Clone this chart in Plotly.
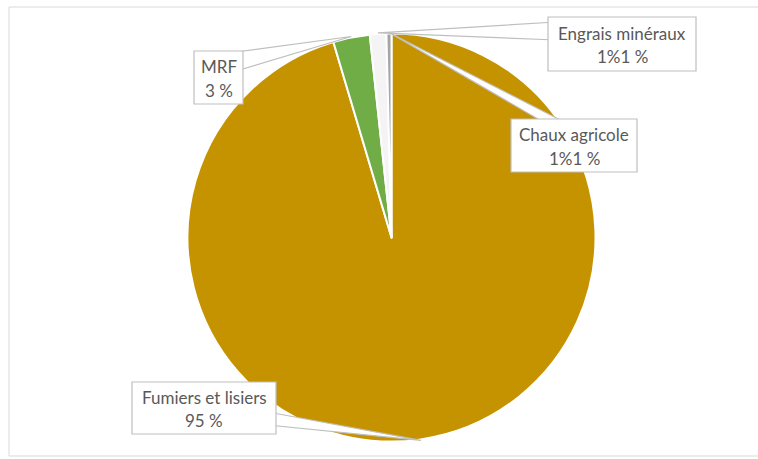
import math
import plotly.graph_objects as go

W, H = 758, 459

categories = ["Fumiers et lisiers", "MRF", "Engrais minéraux", "Chaux agricole"]
values = [95.4, 2.9, 1.3, 0.4]
label_values = ["95 %", "3 %", "1%1 %", "1%1 %"]
colors = ["#C69300", "#70AD47", "#F4F4F4", "#A5A5A5"]

# pie geometry (pixels)
CX, CY, R = 391.5, 237.5, 204.0

# callout boxes (pixels): x0, y0, x1, y1
boxes = {
    "Fumiers et lisiers": (132, 382, 276, 434),
    "MRF": (194, 51, 243, 104),
    "Engrais minéraux": (548, 17, 696, 71),
    "Chaux agricole": (511, 119, 637, 172),
}
# pointer base points (pixels) — inside/on box edges
bases = {
    "Fumiers et lisiers": ((268, 412), (268, 425)),
    "MRF": ((236, 52), (236, 71)),
    "Engrais minéraux": ((556, 22), (556, 40)),
    "Chaux agricole": ((550, 126), (572, 126)),
}


def px(x):
    return x / W


def py(y):
    return 1 - y / H


fig = go.Figure()
fig.add_trace(go.Pie(
    labels=categories,
    values=values,
    sort=False,
    direction="clockwise",
    rotation=0,
    marker=dict(colors=colors, line=dict(color="white", width=2)),
    textinfo="none",
    hoverinfo="label+percent",
    showlegend=False,
    domain=dict(x=[px(CX - R), px(CX + R)], y=[py(CY + R), py(CY - R)]),
))

shapes = []
# chart area border
shapes.append(dict(type="rect", xref="paper", yref="paper",
                   x0=px(9), x1=px(775), y0=py(456), y1=py(7),
                   line=dict(color="#D9D9D9", width=1), fillcolor="rgba(0,0,0,0)",
                   layer="below"))

total = sum(values)
cum = 0.0
annotations = []
for cat, v, lv in zip(categories, values, label_values):
    mid = (cum + v / 2) / total * 2 * math.pi
    cum += v
    tx = CX + R * 1.005 * math.sin(mid)
    ty = CY - R * 1.005 * math.cos(mid)
    (b1x, b1y), (b2x, b2y) = bases[cat]
    path = (f"M {px(b1x)} {py(b1y)} L {px(tx)} {py(ty)} "
            f"L {px(b2x)} {py(b2y)} Z")
    shapes.append(dict(type="path", xref="paper", yref="paper", path=path,
                       fillcolor="white", line=dict(color="#BFBFBF", width=1.2),
                       layer="above"))
    x0, y0, x1, y1 = boxes[cat]
    shapes.append(dict(type="rect", xref="paper", yref="paper",
                       x0=px(x0), x1=px(x1), y0=py(y1), y1=py(y0),
                       fillcolor="white", line=dict(color="#BFBFBF", width=1.2),
                       layer="above"))
    xc = (x0 + x1) / 2
    annotations.append(dict(x=px(xc), y=py(y0 + (y1 - y0) * 0.30), xref="paper", yref="paper",
                            text=cat, showarrow=False, xanchor="center", yanchor="middle",
                            font=dict(family="Lato", size=17, color="#595959")))
    annotations.append(dict(x=px(xc), y=py(y0 + (y1 - y0) * 0.74), xref="paper", yref="paper",
                            text=lv, showarrow=False, xanchor="center", yanchor="middle",
                            font=dict(family="Lato", size=17, color="#595959")))

fig.update_layout(
    width=W, height=H,
    margin=dict(l=0, r=0, t=0, b=0),
    paper_bgcolor="white",
    plot_bgcolor="white",
    shapes=shapes,
    annotations=annotations,
)

fig.write_html("out.html")
